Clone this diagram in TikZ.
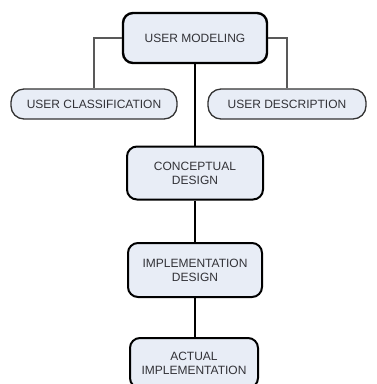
\documentclass[tikz,border=0pt]{standalone}
\usepackage{fontspec}
\setmainfont{Liberation Sans}
\usepackage{tikz}
\usetikzlibrary{positioning,calc}
\definecolor{boxfill}{RGB}{232,237,246}
\definecolor{boxtext}{RGB}{50,50,55}

\tikzset{
  stagebox/.style={draw=black, line width=2pt, fill=boxfill, rounded corners=10pt,
    text=boxtext, align=center, inner sep=2pt, font=\fontsize{12}{14}\selectfont},
  sidebox/.style={draw=black!80, line width=1.3pt, fill=boxfill, rounded corners=13pt,
    text=boxtext, align=center, inner sep=2pt, font=\fontsize{12}{14}\selectfont},
  mainlink/.style={draw=black, line width=2pt},
  sidelink/.style={draw=black!65, line width=1.2pt}
}

\begin{document}
\begin{tikzpicture}[x=1pt, y=-1pt]
  \useasboundingbox (0,0) rectangle (376,384);

  % Top of the hierarchy
  \node[stagebox, line width=2.4pt, minimum width=144pt, minimum height=50pt] (model) at (195,38) {USER MODELING};

  % Side branches
  \node[sidebox, minimum width=166pt, minimum height=30pt] (classif) at (94,104) {USER CLASSIFICATION};
  \node[sidebox, minimum width=158pt, minimum height=30pt] (descr) at (287,104) {USER DESCRIPTION};

  % Design stages
  \node[stagebox, minimum width=136pt, minimum height=53pt] (concept) at (195,173) {CONCEPTUAL\\DESIGN};
  \node[stagebox, minimum width=134pt, minimum height=54pt] (impldesign) at (195,270) {IMPLEMENTATION\\DESIGN};
  \node[stagebox, minimum width=128pt, minimum height=50pt] (actual) at (194,363) {ACTUAL\\IMPLEMENTATION};

  % Links
  \draw[sidelink] (model.west) -| (classif.north);
  \draw[sidelink] (model.east) -| (descr.north);
  \draw[mainlink] (model.south) -- (concept.north);
  \draw[mainlink] (concept.south) -- (impldesign.north);
  \draw[mainlink] (impldesign.south) -- (impldesign.south |- actual.north);
\end{tikzpicture}
\end{document}
